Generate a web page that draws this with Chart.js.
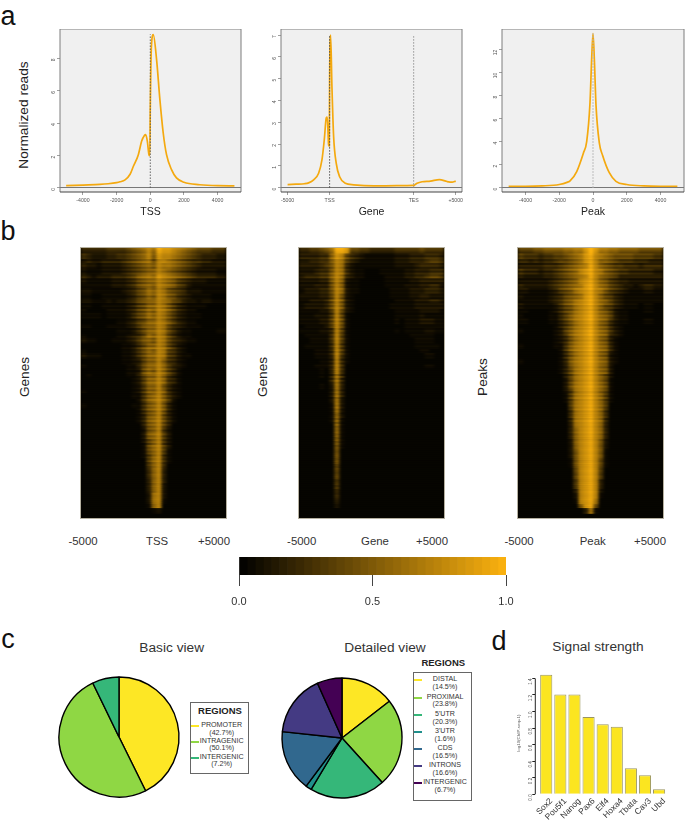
<!DOCTYPE html>
<html><head><meta charset="utf-8">
<style>
html,body{margin:0;padding:0;background:#fff;width:685px;height:822px;overflow:hidden;font-family:"Liberation Sans",Arial,sans-serif}
canvas{position:absolute;display:block}
.t{position:absolute;white-space:nowrap;transform:translate(-50%,-50%);color:#222;line-height:1}
.v{transform:translate(-50%,-50%) rotate(-90deg)}
.heat{position:absolute;top:248px;width:145px;height:270px;overflow:hidden;background:#060400;box-shadow:0 0 0 1px #b5b0a0}
.heat canvas{filter:url(#hb);left:0;top:0}
.box{position:absolute;border:1.5px solid #666;box-sizing:border-box;background:#fff}
.key{position:absolute;height:2px}
</style>
<script src="https://cdn.jsdelivr.net/npm/chart.js@4"></script>
</head><body>
<svg width="0" height="0" style="position:absolute"><filter id="hb" x="-5%" y="-5%" width="110%" height="110%" color-interpolation-filters="sRGB"><feGaussianBlur stdDeviation="1.6 0.25"/></filter></svg>
<script>
// ---- panel a: average profiles
const tssX=[-5000,-4000,-3000,-2500,-2000,-1800,-1500,-1200,-1005,-710,-512,-350,-276,-177,-79,-30,0,60,177,374,571,768,965,1261,1556,2000,2936,4000,5000];
const tssY=[0.14,0.18,0.22,0.26,0.33,0.38,0.5,0.85,1.34,2.06,2.9,3.25,3.3,2.9,2.06,2.0,5.0,8.6,9.48,7.94,5.46,3.4,2.06,1.13,0.62,0.35,0.2,0.14,0.13];
const geneX=[-5000,-4000,-3000,-2500,-1900,-1310,-913,-635,-397,-278,-119,-40,0,119,278,476,794,1190,1866,2858,5240,8000,10000,10200,10400,11000,12000,13060,13970,14570,15000];
const geneY=[0.14,0.16,0.18,0.22,0.36,0.66,1.27,2.2,3.2,3.24,1.96,1.92,5.0,7.0,4.6,2.35,1.1,0.5,0.2,0.13,0.08,0.09,0.1,0.15,0.2,0.27,0.3,0.37,0.28,0.25,0.3];
const peakX=[-5000,-4000,-3000,-2000,-1500,-1360,-965,-571,-374,-177,-79,0,79,177,374,571,965,1360,2000,3000,4000,5000];
const peakY=[0.12,0.12,0.15,0.27,0.48,0.58,1.4,3.0,4.0,7.4,11.2,13.4,11.2,7.2,3.9,2.8,1.3,0.55,0.27,0.15,0.12,0.12];
const tssLineTop=9.5, geneTssLineTop=7.0, geneTesLineTop=6.95, peakLineTop=13.4;
const tssYTicks=[0,2,4,6,8], geneYTicks=[0,1,2,3,4,5,6,7], peakYTicks=[0,2,4,6,8,10,12];
const stdXTicks=[-4000,-2000,0,2000,4000];
const geneXTicks=[-5000,0,10000,15000], geneXLabels=['-5000','TSS','TES','+5000'];

// ---- panel b: heatmap cells, hex intensity per row (top to bottom) and column (left to right)
const heatTss=[
"33333 44445 678a8 cbba9 87655 5444","43222 33445 678a7 baa98 76543 3322","23223 33345 67896 aa987 65443 3222",
"32212 22234 56787 a9987 65432 2222","21112 22234 56788 a9876 54322 2211","32122 23334 57898 ba987 65433 3322",
"21111 12223 46788 a9875 43222 1111","11111 12223 46787 a9875 42111 1111","22111 11123 46798 a9765 42221 1111",
"11001 11112 35687 a9764 32111 1000","22111 21223 46788 a9865 32212 2111","11001 11112 35688 a9753 21111 0000",
"10000 11112 35687 a9753 21100 0000","11110 11112 46798 a9753 21110 0000","00000 00112 35688 a9753 21100 0000",
"11000 11112 35788 a9643 21110 0000","00000 00111 24688 a9642 11000 0011","10000 00112 34698 a9642 11000 0000",
"21100 01112 35787 a9643 21100 0000","00000 00011 24688 a9642 10000 0000","10000 00011 24687 a9542 10000 0000",
"21110 00011 24688 a9542 11000 0000","00000 00011 23688 a8542 10000 0000","10000 00001 13688 a8532 10000 0000",
"00000 00001 12687 a8531","01000 00001 13688 a8531","00000 00000 12588 a8431","00000 00000 12588 a7421",
"10000 00000 12588 a8421","00000 00000 11478 a7421","00000 00000 01478 a7410","10000 00000 11478 a7310",
"00000 00000 01478 a7310","00000 00000 01378 a6310","00000 00000 01378 a6310","00000 00000 00378 a6300",
"00000 00000 00278 a5200","00000 00000 00278 a5200","00000 00000 00268 a5200","00000 00000 00168 a5200",
"00000 00000 00168 a5100","00000 00000 00158 a4100","00000 00000 00058 a4100","00000 00000 00058 a4000",
"00000 00000 00048 a3000","00000 00000 00048 a3000","00000 00000 00038 a3000","00000 00000 00038 a2000",
"00000 00000 00038 a2000","00000 00000 00029 a2000","00000 00000 00029 a1000","00000 00000 00018 a0000",
"00000 00000 00001 20000","0"];
const heatGene=[
"33445 68ccb 55443 33334 44445 4444","33334 48ba6 43211 11112 22333 4443","22334 47a95 32111 11112 22333 4554",
"33334 57a94 21111 11112 22234 4443","22234 47a94 21100 01111 12233 3444","23334 47a83 21100 00111 12233 4554",
"22223 37a82 11000 00111 11223 3333","22233 37a82 11000 00111 12223 3442","12223 36a82 11000 00011 11222 3332",
"22223 36a72 10000 00011 11223 3222","11222 36a72 10000 00001 11122 2332","12222 36a72 10000 00011 11122 2222",
"11112 25a62 10000 00001 11112 2221","11122 25a61 00000 00001 11112 1111","11112 25a61 00000 00001 01112 2211",
"01111 25a61 00000 00000 01111 1111","11112 24a61 00000 00001 01111 2211","01111 14a51 00000 00000 00111 1100",
"00111 14a51 00000 00000 00011 1100","01111 14a51 00000 00000 00011 1110","00011 13a51 00000 00000 00001 1000",
"00011 13a41 00000 00000 00000 1100","00001 13a41","00011 13a40 00000 00000 00000 1100","00001 03a40","00001 03940",
"00000 03930","00001 02930","00000 02930","00000 02930","00000 02920","00000 01920","00000 01920","00000 01820",
"00000 01810","00000 00810","00000 00810","00000 00810","00000 00710","00000 00710","00000 00700","00000 00700",
"00000 00700","00000 00600","00000 00600","00000 00600","00000 00500","00000 00500","00000 00400","00000 00400",
"00000 00300","00000 00200","0","0"];
const heatPeak=[
"55566 77778 899bd b9988 77776 6666","54443 44556 789bc a9876 66655 5544","44343 44566 789bc a8876 55544 4333",
"33333 44456 789ac a8765 54443 4444","43332 33456 78abc a9765 44333 3322","32222 33456 789ac a8765 33333 3333",
"22222 23456 78abc a8754 33222 2222","32222 23456 789bc a8754 32212 3322","22111 12356 79abc a9754 32111 2211",
"21111 12346 789bc a8653 21111 1111","11111 12346 79abc a8753 21111 1111","21111 11246 79abc a8653 21110 1100",
"11000 01246 79abc a8752 11000 1100","10000 01135 79abc a8752 11000 0000","11000 01135 79abc a8742 11000 1100",
"00000 00135 79abc a8742 10000 0000","10000 00125 79abc a8742 10000 0000","00000 00124 79abc a8732 10000 0000",
"00000 00124 79abc a8731","10000 00114 79abc a8731","00000 00014 79abc a8731","00000 00014 79abc a8721",
"10000 00013 79abc a8721","00000 00013 79abc a8720","00000 00013 69abc a8720","00000 00003 69abc a8620",
"00000 00002 69abc a8610","00000 00002 69abc a8610","00000 00002 59abc a8610","00000 00001 59abc a8510",
"00000 00001 59abc a8510","00000 00000 59abc a8500","00000 00000 49abc a8400","00000 00000 49abc a8400",
"00000 00000 39abc a8300","00000 00000 39abc a8300","00000 00000 38abc a8300","00000 00000 38abc a8300",
"00000 00000 28abc a7200","00000 00000 28abc a7200","00000 00000 27abc a7100","00000 00000 27abc a7100",
"00000 00000 17abc a6100","00000 00000 17abc a6100","00000 00000 06abc a5000","00000 00000 06abc a5000",
"00000 00000 05abc a3000","00000 00000 05abc a3000","00000 00000 03abc a2000","00000 00000 02abc a1000",
"00000 00000 01abc 90000","00000 00000 007bc 60000","00000 00000 00039 10000","0"];
// streak strength of each 2 px scan line, read top to bottom (5 = neutral)
const streakTss ="964756385736275947385264837562839463725846375284736295748362574839627485362748596374826375847362584736285746375846465465456465546456545655465";
const streakGene="974638574626385947263857462937485627394857263748562738495627384756283947563748265748362574838465746385746545654655465456545646554656545645655";
const streakPeak="963857362749385627485936274859362748593627485936274859362748563748265374856274836574836574856465746546545654655465456546545655465456546554655";
const colorSteps=[0.00,0.03,0.06,0.09,0.12,0.15,0.18,0.21,0.24,0.27,0.30,0.33,0.36,0.39,0.42,0.45,0.48,0.51,0.54,0.57,0.60,0.63,0.66,0.69,0.72,0.75,0.78,0.81,0.84,0.87,0.90,0.93,0.96];
const colorTicks=[0,0.5,1];

// ---- panel c
const basicRegions=['PROMOTER','INTRAGENIC','INTERGENIC'];
const basicValues=[42.7,50.1,7.2];
const detailRegions=['DISTAL','PROXIMAL',"5'UTR","3'UTR",'CDS','INTRONS','INTERGENIC'];
const detailValues=[14.5,23.8,20.3,1.6,16.5,16.6,6.7];
const basicColors=['#FDE725','#8FD744','#35B779'];
const detailColors=['#FDE725','#8FD744','#35B779','#21908C','#31688E','#443A83','#440154'];

// ---- panel d
const geneNames=['Sox2','Pou5f1','Nanog','Pax6','Elf4','Hoxa4','Tbata','Cav3','Ubd'];
const signalValues=[1.444,1.207,1.207,0.933,0.845,0.817,0.314,0.229,0.06];
const signalTicks=[0,0.2,0.4,0.6,0.8,1.0,1.2,1.4];

const FONT='"Liberation Sans",Arial,sans-serif';
Chart.defaults.font.family=FONT;
Chart.defaults.animation=false;
Chart.defaults.responsive=false;
Chart.defaults.devicePixelRatio=1;
Chart.defaults.plugins.legend.display=false;
Chart.defaults.plugins.tooltip.enabled=false;

function canvas(l,t,w,h,parent){
  const c=document.createElement('canvas');c.width=w;c.height=h;
  c.style.left=l+'px';c.style.top=t+'px';c.style.width=w+'px';c.style.height=h+'px';
  (parent||document.body).appendChild(c);return c;
}
function text(s,x,y,size,opts={}){
  const d=document.createElement('div');d.className='t'+(opts.v?' v':'');d.textContent=s;
  d.style.left=x+'px';d.style.top=y+'px';d.style.fontSize=size+'px';
  if(opts.color)d.style.color=opts.color; if(opts.bold)d.style.fontWeight='bold';
  document.body.appendChild(d);return d;
}
function noPad(s){s.paddingLeft=s.paddingRight=s.paddingTop=s.paddingBottom=0;}
const panelFrame={id:'panelFrame',
  beforeDraw(ch){const a=ch.chartArea,c=ch.ctx;c.save();c.fillStyle='#f0f0f0';c.fillRect(a.left,a.top,a.width,a.height);c.restore();},
  afterDraw(ch){const a=ch.chartArea,c=ch.ctx;c.save();c.lineWidth=1;c.strokeStyle='#7d7d7d';
    c.beginPath();c.moveTo(a.left,a.bottom);c.lineTo(a.left,a.top);c.lineTo(a.right,a.top);c.lineTo(a.right,a.bottom);c.stroke();
    c.strokeStyle='#444';c.beginPath();c.moveTo(a.left,a.bottom);c.lineTo(a.right,a.bottom);c.stroke();c.restore();}
};
function profile(cfg){
  const el=canvas(cfg.plotLeft-22,29,cfg.plotRight-cfg.plotLeft+22+1,191);
  const marks=cfg.vlines.map(v=>({data:[{x:v.x,y:0},{x:v.x,y:v.top}],borderColor:v.color,borderWidth:v.w,borderDash:v.dash,pointRadius:0,tension:0}));
  new Chart(el,{type:'line',plugins:[panelFrame],
    data:{datasets:[...marks,{data:cfg.xs.map((x,i)=>({x,y:cfg.ys[i]})),borderColor:'#F4A90F',borderWidth:1.7,pointRadius:0,cubicInterpolationMode:'monotone'}]},
    options:{layout:{padding:{right:1}},
     scales:{
      x:{type:'linear',min:cfg.xMin,max:cfg.xMax,
         afterBuildTicks:s=>{s.ticks=cfg.xTicks.map(v=>({value:v}));},
         afterFit:s=>{s.height=28;noPad(s);},
         border:{display:false},
         grid:{drawOnChartArea:false,drawTicks:true,tickLength:3,tickColor:'#777',tickWidth:.7},
         ticks:{autoSkip:false,maxRotation:0,minRotation:0,padding:2,font:{size:5.2},color:'#555',callback:cfg.xLabel},
         title:{display:true,text:cfg.title,font:{size:10.5},color:'#222',padding:{top:0,bottom:2}}},
      y:{type:'linear',min:cfg.yMin,max:cfg.yMax,
         afterBuildTicks:s=>{s.ticks=cfg.yTicks.map(v=>({value:v}));},
         afterFit:s=>{s.width=22;noPad(s);},
         border:{display:false},
         grid:{color:c=>c.tick&&c.tick.value===0?'#777':'transparent',lineWidth:1,tickLength:3,tickColor:'#777',tickWidth:.7,drawTicks:true},
         ticks:{autoSkip:false,minRotation:90,maxRotation:90,padding:3,font:{size:5},color:'#555',callback:v=>String(v)}}
     }}});
}
profile({plotLeft:60,plotRight:241,xMin:-5365,xMax:5390,yMin:-0.25,yMax:9.83,xs:tssX,ys:tssY,xTicks:stdXTicks,yTicks:tssYTicks,title:'TSS',xLabel:v=>String(v),
  vlines:[{x:0,top:tssLineTop,color:'#555',w:.9,dash:[1.5,1.5]}]});
profile({plotLeft:281,plotRight:462,xMin:-5784,xMax:15748,yMin:-0.2,yMax:7.28,xs:geneX,ys:geneY,xTicks:geneXTicks,yTicks:geneYTicks,title:'Gene',xLabel:v=>geneXLabels[geneXTicks.indexOf(v)],
  vlines:[{x:0,top:geneTssLineTop,color:'#444',w:.9,dash:[1.5,1.5]},{x:10000,top:geneTesLineTop,color:'#888',w:.9,dash:[1.5,1.5]}]});
profile({plotLeft:502,plotRight:684,xMin:-5393,xMax:5393,yMin:-0.38,yMax:13.8,xs:peakX,ys:peakY,xTicks:stdXTicks,yTicks:peakYTicks,title:'Peak',xLabel:v=>String(v),
  vlines:[{x:0,top:peakLineTop,color:'#b5b5b5',w:1.2,dash:[1.5,1.5]}]});

// heatmaps
function shade(v){v=Math.min(1,Math.max(0,v));return `rgb(${Math.round(255*v)},${Math.round(180*v)},${Math.round(15*v)})`;}
function heatmap(rowsRaw,streak,left){
  const rows=rowsRaw.map(r=>r.replace(/ /g,'').padEnd(29,'0'));
  const wrap=document.createElement('div');wrap.className='heat';wrap.style.left=left+'px';document.body.appendChild(wrap);
  const el=canvas(0,0,145,270,wrap);
  const nCols=rows[0].length, nLines=streak.length;
  const lineRow=i=>rows[Math.floor(i*rows.length/nLines)];
  const datasets=[];
  for(let c=0;c<nCols;c++){
    const colors=[];
    for(let i=0;i<nLines;i++){
      const d=parseInt(lineRow(i)[c],16), g=parseInt(streak[i],10)/5;
      const weight=Math.max(.08,1-d/11);   // streaks show most outside the bright core
      const level=d*(1+(g-1)*.8*weight);
      colors.push(shade(Math.pow(level/13,1.4)+.025));
    }
    datasets.push({data:colors.map(()=>10000/nCols),stack:'h',barPercentage:1,categoryPercentage:1,borderWidth:0,backgroundColor:colors});
  }
  new Chart(el,{type:'bar',data:{labels:Array.from(streak),datasets},
    options:{indexAxis:'y',layout:{padding:0},scales:{
      x:{type:'linear',min:0,max:10000,stacked:true,display:false},
      y:{type:'category',stacked:true,display:false}}}});
}
heatmap(heatTss,streakTss,81);heatmap(heatGene,streakGene,299);heatmap(heatPeak,streakPeak,518);

// colour key
new Chart(canvas(225,557,295,55),{type:'bar',
  data:{labels:['key'],datasets:colorSteps.map(s=>({data:[[s,s+0.03]],barPercentage:1,categoryPercentage:1,borderWidth:0,grouped:false,backgroundColor:shade(s+0.015)}))},
  options:{indexAxis:'y',layout:{padding:{left:14,right:14,top:0}},scales:{
    y:{display:false,stacked:false,afterFit:s=>{s.width=0;}},
    x:{type:'linear',min:0,max:0.99,afterFit:s=>{s.height=37;noPad(s);},
       afterBuildTicks:s=>{s.ticks=colorTicks.map(v=>({value:v*0.99}));},
       border:{display:false},
       grid:{drawOnChartArea:false,tickLength:11,tickColor:'#444',tickWidth:1},
       ticks:{autoSkip:false,maxRotation:0,padding:9,font:{size:11},color:'#333',callback:(v,i)=>colorTicks[i].toFixed(1)}}}}});

// pies
function pie(values,colors,cx,cy){
  new Chart(canvas(cx-64,cy-64,128,128),{type:'pie',
    data:{labels:values.map(String),datasets:[{data:values,backgroundColor:colors,borderColor:'#000',borderWidth:1.4,radius:60}]},
    options:{layout:{padding:0}}});
}
pie(basicValues,basicColors,119,737);
pie(detailValues,detailColors,342,738);

function legend(box,names,values,colors,rowYs,textX,keyX,keyW){
  const b=document.createElement('div');b.className='box';
  Object.assign(b.style,{left:box[0]+'px',top:box[1]+'px',width:box[2]+'px',height:box[3]+'px'});
  document.body.appendChild(b);
  names.forEach((n,i)=>{
    text(n,textX,rowYs[i*2],7.1,{color:'#333'});
    text('('+values[i].toFixed(1)+'%)',textX,rowYs[i*2+1],7.1,{color:'#333'});
    const k=document.createElement('div');k.className='key';
    Object.assign(k.style,{left:keyX+'px',top:Math.round(rowYs[i*2]-1)+'px',width:keyW+'px',background:colors[i]});
    document.body.appendChild(k);
  });
}
legend([189.5,702,59.5,71.5],basicRegions,basicValues,basicColors,[726.3,734,742.3,749.3,757.7,765.3],221.7,191,8);
legend([413,671.5,59,129],detailRegions,detailValues,detailColors,[680.3,688.3,697.7,705.3,714.7,722.7,731.7,740,749,757,766,774.3,783.3,791.3],445,414,8);

// bars
new Chart(canvas(516,672,169,150),{type:'bar',
  data:{datasets:[{data:signalValues.map((v,i)=>({x:i,y:v})),backgroundColor:'#FBE520',borderColor:'#9a9560',borderWidth:1,barPercentage:.86,categoryPercentage:1}]},
  options:{layout:{padding:{right:19}},scales:{
    x:{type:'linear',min:-0.776,max:8.49,offset:false,
       afterBuildTicks:s=>{s.ticks=geneNames.map((_,i)=>({value:i}));},
       afterFit:s=>{s.height=27.7;noPad(s);},
       border:{display:false},grid:{display:false,drawTicks:false},
       ticks:{autoSkip:false,minRotation:45,maxRotation:45,padding:2,labelOffset:5,font:{size:8.4},color:'#333',callback:v=>geneNames[v]}},
    y:{type:'linear',min:0,max:1.4776,
       afterBuildTicks:s=>{s.ticks=signalTicks.map(v=>({value:v}));},
       afterFit:s=>{s.width=19.3;noPad(s);},
       border:{display:false},
       grid:{drawOnChartArea:false,tickLength:3,tickColor:'#222',tickWidth:1},
       ticks:{autoSkip:false,minRotation:90,maxRotation:90,padding:2,font:{size:4.6},color:'#555',callback:v=>v.toFixed(1)},
       title:{display:true,text:'log10(ChIP-seq+1)',font:{size:4.4},color:'#666',padding:0}}}},
  plugins:[{id:'yAxisLine',afterDraw(ch){const y=ch.scales.y,c=ch.ctx;c.save();c.strokeStyle='#222';c.lineWidth=1;c.beginPath();
    c.moveTo(y.right,y.getPixelForValue(0));c.lineTo(y.right,y.getPixelForValue(1.4));c.stroke();c.restore();}}]});

// text
text('a',8,16,27,{color:'#111'});text('b',8,231,27,{color:'#111'});text('c',8,639,27,{color:'#111'});text('d',499,641,27,{color:'#111'});
text('Normalized reads',24,115,13.7,{v:1});
text('Genes',24.5,377,13.6,{v:1});text('Genes',263,377,13.6,{v:1});text('Peaks',483,377,13.6,{v:1});
[[83,'-5000'],[157,'TSS'],[214,'+5000'],[301.7,'-5000'],[375,'Gene'],[432,'+5000'],[519,'-5000'],[592.7,'Peak'],[650,'+5000']].forEach(a=>text(a[1],a[0],542,11.4,{color:'#333'}));
text('Basic view',171.7,648,13.7,{color:'#333'});text('Detailed view',385,648,13.7,{color:'#333'});text('Signal strength',598,647,13.7,{color:'#333'});
text('REGIONS',220,710.7,9.5,{bold:1});text('REGIONS',443.3,663.3,9.5,{bold:1});
</script>
</body></html>
